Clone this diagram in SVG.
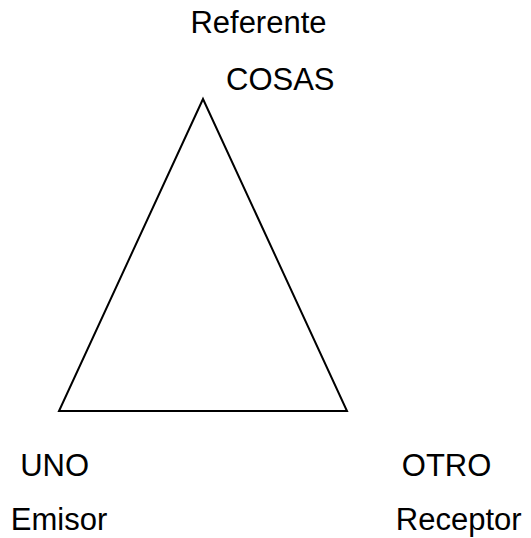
<svg xmlns="http://www.w3.org/2000/svg" width="531" height="538" viewBox="0 0 531 538">
<style>
text { font-family: "Liberation Sans", Arial, sans-serif; font-size: 31px; fill: #000; }
.edge { fill: none; stroke: #000; stroke-width: 2; }
</style>
<rect width="531" height="538" fill="#fff"/>
<g id="connectors">
<path class="edge" d="M203,99 L347,411 L59,411 Z" stroke-linejoin="miter"/>
</g>
<g id="referente"><text x="190.4" y="33">Referente</text><text x="226" y="89.5">COSAS</text></g>
<g id="emisor"><text x="20.2" y="476">UNO</text><text x="10.8" y="530">Emisor</text></g>
<g id="receptor"><text x="401.8" y="476">OTRO</text><text x="395.8" y="530">Receptor</text></g>
</svg>
